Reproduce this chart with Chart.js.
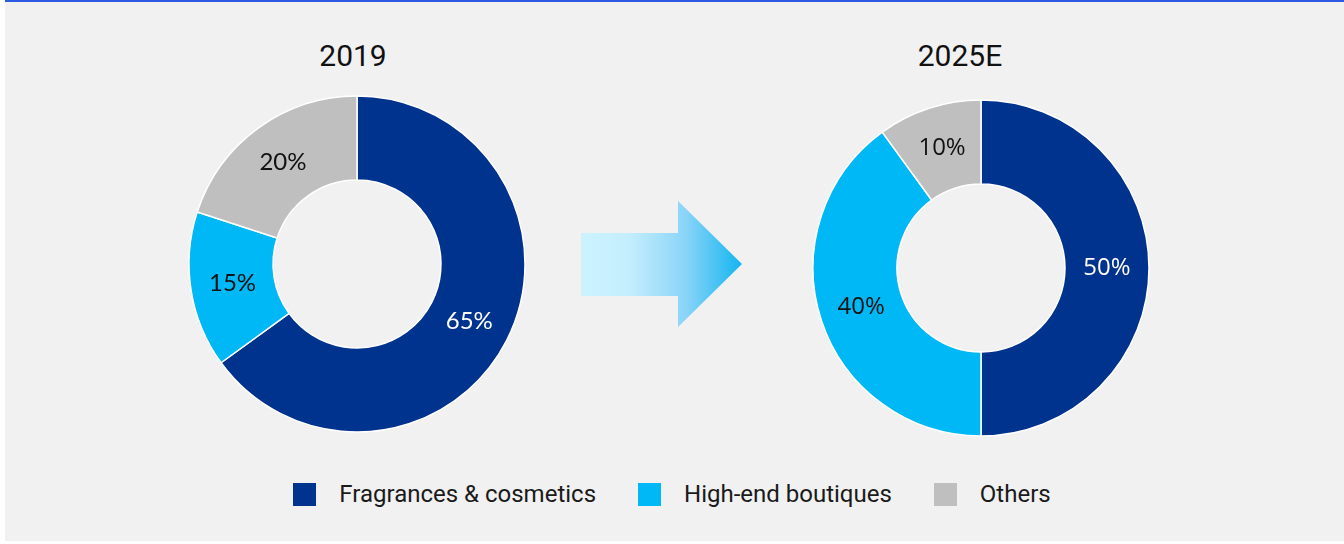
<!DOCTYPE html>
<html>
<head>
<meta charset="utf-8">
<script src="https://cdn.jsdelivr.net/npm/chart.js@4.4.1/dist/chart.umd.min.js"></script>
<style>
  html, body { margin: 0; padding: 0; background: #fff; }
  body { width: 1344px; height: 544px; position: relative; overflow: hidden; font-family: Roboto, sans-serif; }
  .painel { position: absolute; left: 5px; top: 0; width: 1339px; height: 541px; background: #f1f1f1; border-top: 2px solid #2d5be3; box-sizing: border-box; }
  .titulo { position: absolute; top: 38px; font-size: 30px; color: #111; transform: translateX(-50%); white-space: nowrap; }
  .grafico { position: absolute; width: 360px; height: 360px; }
  #seta { position: absolute; left: 0; top: 0; }
  .legenda { position: absolute; left: 0; width: 1344px; top: 483px; display: flex; justify-content: center; align-items: center; }
  .legenda .item { display: flex; align-items: center; margin: 0 21px; }
  .legenda .caixa { width: 23px; height: 23px; margin-right: 23px; }
  .legenda .rotulo { font-size: 24px; color: #1a1a1a; line-height: 23px; }
</style>
</head>
<body>
<div class="painel"></div>
<div class="titulo" id="titulo0" style="left:353px"></div>
<div class="titulo" id="titulo1" style="left:960px"></div>
<svg id="seta" width="1344" height="544">
  <defs>
    <linearGradient id="gradSeta" x1="581" y1="0" x2="742" y2="0" gradientUnits="userSpaceOnUse">
      <stop offset="0" stop-color="#ccf2ff"/>
      <stop offset="0.3" stop-color="#c4eefd"/>
      <stop offset="0.65" stop-color="#8ad4f8"/>
      <stop offset="1" stop-color="#12b5f0"/>
    </linearGradient>
  </defs>
  <polygon points="581,233 678,233 678,201 742,264 678,327 678,296 581,296" fill="url(#gradSeta)"/>
</svg>
<div class="grafico" style="left:177px; top:84px"><canvas id="donut2019"></canvas></div>
<div class="grafico" style="left:801px; top:88px"><canvas id="donut2025"></canvas></div>
<div class="legenda" id="legenda"></div>

<script>
// ============================================================
// Canais de venda — 2019 vs 2025E
// ============================================================

const CATEGORIAS = ['Fragrances & cosmetics', 'High-end boutiques', 'Others'];
const ANOS = ['2019', '2025E'];
const VALORES_2019 = [65, 15, 20];
const VALORES_2025 = [50, 40, 10];

const CORES = ['#00338d', '#00b8f5', '#bfbfbf'];
const CORES_ROTULO = ['#ffffff', '#111111', '#111111'];

// rótulos de porcentagem no meio de cada fatia
const rotulosFatia = {
  id: 'rotulosFatia',
  afterDatasetsDraw(chart, args, opts) {
    const { ctx } = chart;
    const meta = chart.getDatasetMeta(0);
    const dados = chart.data.datasets[0].data;
    ctx.save();
    ctx.font = opts.fonte;
    ctx.textAlign = 'center';
    ctx.textBaseline = 'middle';
    meta.data.forEach((arco, i) => {
      const p = arco.tooltipPosition();
      ctx.fillStyle = CORES_ROTULO[i];
      ctx.fillText(dados[i] + '%', p.x, p.y);
    });
    ctx.restore();
  },
};

function montarDonut(id, valores, raio, fonte) {
  return new Chart(document.getElementById(id), {
    type: 'doughnut',
    data: {
      labels: CATEGORIAS,
      datasets: [{
        data: valores,
        backgroundColor: CORES,
        borderColor: '#ffffff',
        borderWidth: 1.5,
        hoverOffset: 0,
      }],
    },
    options: {
      responsive: true,
      maintainAspectRatio: false,
      animation: false,
      radius: raio,
      cutout: '50%',
      plugins: {
        legend: { display: false },
        tooltip: { enabled: false },
        rotulosFatia: { fonte: fonte },
      },
    },
    plugins: [rotulosFatia],
  });
}

function montarLegenda() {
  const el = document.getElementById('legenda');
  el.innerHTML = CATEGORIAS.map((c, i) => `
    <div class="item">
      <span class="caixa" style="background:${CORES[i]}"></span>
      <span class="rotulo">${c}</span>
    </div>
  `).join('');
}

document.getElementById('titulo0').textContent = ANOS[0];
document.getElementById('titulo1').textContent = ANOS[1];
montarDonut('donut2019', VALORES_2019, 168, '24px Lato, sans-serif');
montarDonut('donut2025', VALORES_2025, 168, '24px "Open Sans", sans-serif');
montarLegenda();
</script>
</body>
</html>
